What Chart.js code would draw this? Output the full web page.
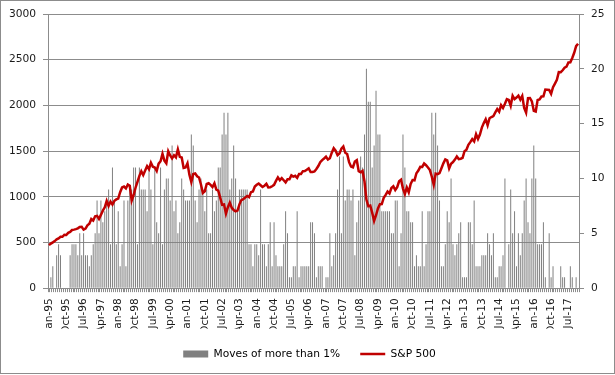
<!DOCTYPE html>
<html lang="en">
<head>
  <meta charset="UTF-8" />
  <title>Moves of more than 1% vs S&amp;P 500</title>
  <script src="https://cdn.jsdelivr.net/npm/chart.js"></script>
  <style>
    html, body { margin: 0; padding: 0; background: #fff; }
    #wrap { position: relative; width: 615px; height: 375px; }
    #frame {
      position: absolute; left: 0; top: 0; width: 615px; height: 374px;
      box-sizing: border-box; border: 1px solid #8c8c8c; pointer-events: none;
    }
  </style>
</head>
<body>
  <div id="wrap">
    <canvas id="chart" width="615" height="375"></canvas>
    <div id="frame"></div>
  </div>

  <script>
    // Categories: one per month, Jan-95 .. Dec-17
    const monthNames = ['Jan','Feb','Mar','Apr','May','Jun','Jul','Aug','Sep','Oct','Nov','Dec'];
    const firstYear = 1995;
    const lastYear = 2017;
    const months = [];
    for (let y = firstYear; y <= lastYear; y++) {
      monthNames.forEach(m => months.push(m + '-' + String(y).slice(2)));
    }

    // Days per month with a move of more than 1% (right axis)
    const moves = [
      0,1,2,0,3,4,3,0,0,0,0,3,          // 1995
      4,4,4,3,5,3,5,3,3,2,3,4,          // 1996
      5,8,5,8,6,7,8,9,4,11,8,4,         // 1997
      7,2,4,8,2,8,9,9,11,11,4,11,       // 1998
      9,9,9,7,11,9,4,11,6,5,11,4,       // 1999
      9,10,10,8,13,7,8,5,6,10,9,8,      // 2000
      8,8,14,13,8,6,9,10,9,7,9,5,       // 2001
      5,9,7,8,11,11,14,16,14,16,9,10,   // 2002
      13,10,7,9,9,9,9,9,4,4,2,4,        // 2003
      4,3,9,4,4,2,4,6,2,6,3,2,          // 2004
      2,2,4,7,5,1,1,2,2,7,1,2,          // 2005
      2,2,2,2,6,6,5,1,2,2,2,0,          // 2006
      1,1,5,2,3,5,9,12,5,12,8,9,        // 2007
      9,8,9,3,6,8,12,11,14,20,17,17,    // 2008
      11,13,18,14,14,7,7,7,7,7,5,5,     // 2009
      8,8,2,5,14,11,7,7,6,6,2,3,        // 2010
      2,2,7,2,4,7,7,16,14,16,13,8,      // 2011
      2,2,4,7,6,10,4,3,4,5,6,1,         // 2012
      1,1,6,6,4,8,2,2,2,3,3,3,          // 2013
      5,4,3,5,1,1,2,2,3,10,0,4,         // 2014
      9,5,7,2,5,3,5,8,10,6,5,10,        // 2015
      13,10,4,4,4,6,1,0,5,1,2,0,        // 2016
      0,0,2,1,1,0,0,2,1,0,1,0           // 2017
    ];

    // S&P 500 month-end level (left axis)
    const sp500 = [
      470.4,487.4,500.7,514.7,533.4,544.8,562.1,561.9,584.4,581.5,605.4,615.9,
      636.0,640.4,645.5,654.2,669.1,670.6,640.0,652.0,687.3,705.3,757.0,740.7,
      786.2,790.8,757.1,801.3,848.3,885.1,954.3,899.5,947.3,914.6,955.4,970.4,
      980.3,1049.3,1101.8,1111.8,1090.8,1133.8,1120.7,957.3,1017.0,1098.7,1163.6,1229.2,
      1279.6,1238.3,1286.4,1335.2,1301.8,1372.7,1328.7,1320.4,1282.7,1362.9,1388.9,1469.3,
      1394.5,1366.4,1498.6,1452.4,1420.6,1454.6,1430.8,1517.7,1436.5,1429.4,1315.0,1320.3,
      1366.0,1239.9,1160.3,1249.5,1255.8,1224.4,1211.2,1133.6,1040.9,1059.8,1139.5,1148.1,
      1130.2,1106.7,1147.4,1076.9,1067.1,989.8,911.6,916.1,815.3,885.8,936.3,879.8,
      855.7,841.2,848.2,916.9,963.6,974.5,990.3,1008.0,996.0,1050.7,1058.2,1111.9,
      1131.1,1144.9,1126.2,1107.3,1120.7,1140.8,1101.7,1104.2,1114.6,1130.2,1173.8,1211.9,
      1181.3,1203.6,1180.6,1156.9,1191.5,1191.3,1234.2,1220.3,1228.8,1207.0,1249.5,1248.3,
      1280.1,1280.7,1294.8,1310.6,1270.1,1270.2,1276.7,1303.8,1335.9,1377.9,1400.6,1418.3,
      1438.2,1406.8,1420.9,1482.4,1530.6,1503.4,1455.3,1474.0,1526.8,1549.4,1481.1,1468.4,
      1378.6,1330.6,1322.7,1385.6,1400.4,1280.0,1267.4,1282.8,1166.4,968.8,896.2,903.3,
      825.9,735.1,797.9,872.8,919.1,919.3,987.5,1020.6,1057.1,1036.2,1095.6,1115.1,
      1073.9,1104.5,1169.4,1186.7,1089.4,1030.7,1101.6,1049.3,1141.2,1183.3,1180.6,1257.6,
      1286.1,1327.2,1325.8,1363.6,1345.2,1320.6,1292.3,1218.9,1131.4,1253.3,1247.0,1257.6,
      1312.4,1365.7,1408.5,1397.9,1310.3,1362.2,1379.3,1406.6,1440.7,1412.2,1416.2,1426.2,
      1498.1,1514.7,1569.2,1597.6,1630.7,1606.3,1685.7,1633.0,1681.6,1756.5,1805.8,1848.4,
      1782.6,1859.5,1872.3,1884.0,1923.6,1960.2,1930.7,2003.4,1972.3,2018.1,2067.6,2058.9,
      1995.0,2104.5,2067.9,2085.5,2107.4,2063.1,2103.8,1972.2,1920.0,2079.4,2080.4,2043.9,
      1940.2,1932.2,2059.7,2065.3,2097.0,2098.9,2173.6,2171.0,2168.3,2126.2,2198.8,2238.8,
      2278.9,2363.6,2362.7,2384.2,2411.8,2423.4,2470.3,2471.7,2519.4,2575.3,2647.6,2673.6
    ];

    const LABEL_EVERY = 9;
    const gridGray = '#8c8c8c';

    Chart.defaults.font.family = '"DejaVu Sans", Verdana, sans-serif';
    Chart.defaults.font.size = 10.67;
    Chart.defaults.color = '#1a1a1a';

    new Chart(document.getElementById('chart'), {
      type: 'bar',
      data: {
        labels: months,
        datasets: [
          {
            type: 'bar',
            label: 'Moves of more than 1%',
            data: moves,
            yAxisID: 'y1',
            backgroundColor: '#808080',
            barThickness: 1,
            inflateAmount: 0,
            order: 1
          },
          {
            type: 'line',
            label: 'S&P 500',
            data: sp500,
            yAxisID: 'y',
            borderColor: '#c00000',
            borderWidth: 2.5,
            pointRadius: 0,
            tension: 0,
            order: 0
          }
        ]
      },
      options: {
        responsive: false,
        animation: false,
        layout: { padding: { top: 14, bottom: 5.6, left: 4, right: 0 } },
        plugins: {
          tooltip: { enabled: false },
          legend: {
            position: 'bottom',
            labels: {
              usePointStyle: true,
              pointStyleWidth: 25,
              boxHeight: 7,
              padding: 20,
              color: '#1a1a1a',
              generateLabels: () => [
                { text: 'Moves of more than 1%', pointStyle: 'rect', fillStyle: '#808080', strokeStyle: '#808080', lineWidth: 0, datasetIndex: 0 },
                { text: 'S&P 500', pointStyle: 'line', fillStyle: '#c00000', strokeStyle: '#c00000', lineWidth: 2.5, datasetIndex: 1 }
              ]
            }
          }
        },
        scales: {
          x: {
            grid: { drawOnChartArea: false, drawTicks: true, tickLength: 4, color: gridGray },
            border: { color: gridGray },
            ticks: {
              autoSkip: false,
              minRotation: 90,
              maxRotation: 90,
              padding: 6,
              callback: (v, i) => (i % LABEL_EVERY === 0 ? months[i] : '')
            },
            afterFit: s => { s.height = 40.6; }
          },
          y: {
            position: 'left',
            min: 0,
            max: 3000,
            ticks: { stepSize: 500, padding: 7, callback: v => String(v) },
            grid: { color: gridGray, tickLength: 5 },
            border: { color: gridGray },
            afterFit: s => { s.width = 44; }
          },
          y1: {
            position: 'right',
            min: 0,
            max: 25,
            ticks: { stepSize: 5, padding: 7, callback: v => String(v) },
            grid: { drawOnChartArea: false, color: gridGray, tickLength: 5 },
            border: { color: gridGray },
            afterFit: s => { s.width = 36; }
          }
        }
      }
    });
  </script>
</body>
</html>
